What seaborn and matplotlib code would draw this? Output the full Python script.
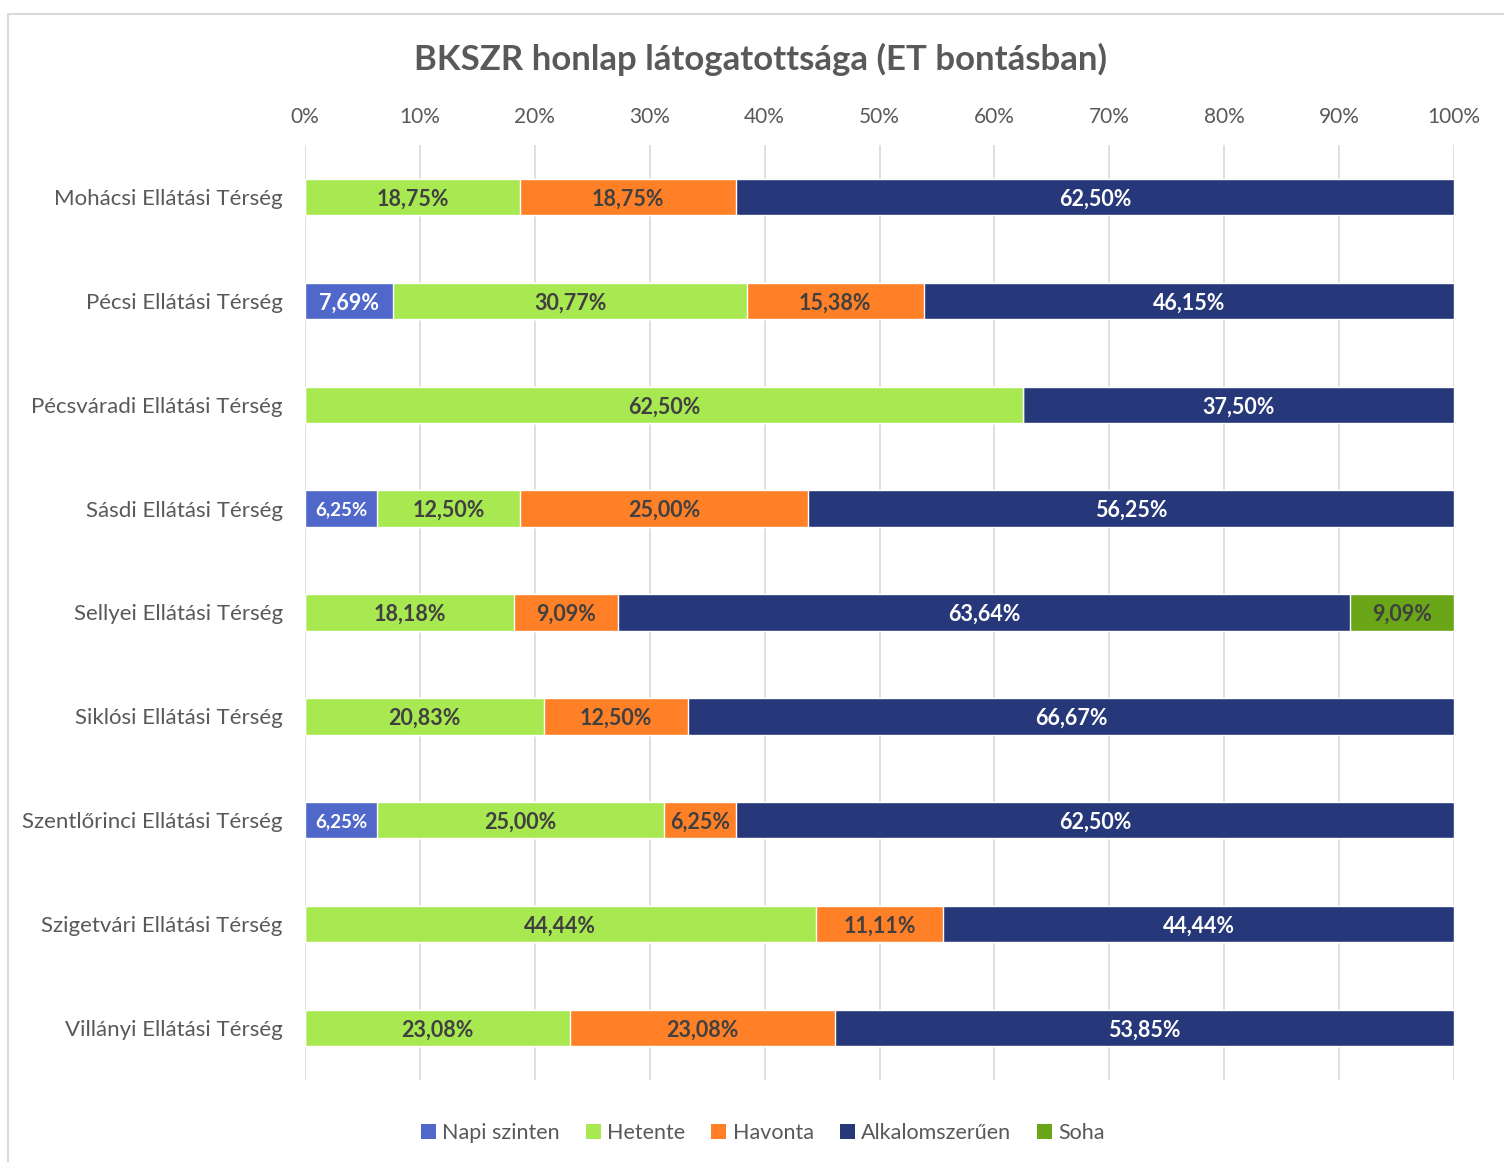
import numpy as np
import pandas as pd
import matplotlib.pyplot as plt
import seaborn as sns
from matplotlib.patches import Rectangle, Patch

regions = ["Mohácsi Ellátási Térség", "Pécsi Ellátási Térség", "Pécsváradi Ellátási Térség",
           "Sásdi Ellátási Térség", "Sellyei Ellátási Térség", "Siklósi Ellátási Térség",
           "Szentlőrinci Ellátási Térség", "Szigetvári Ellátási Térség", "Villányi Ellátási Térség"]
series = ["Napi szinten", "Hetente", "Havonta", "Alkalomszerűen", "Soha"]
napi = [0, 7.69, 0, 6.25, 0, 0, 6.25, 0, 0]
hetente = [18.75, 30.77, 62.50, 12.50, 18.18, 20.83, 25.00, 44.44, 23.08]
havonta = [18.75, 15.38, 0, 25.00, 9.09, 12.50, 6.25, 11.11, 23.08]
alkalom = [62.50, 46.15, 37.50, 56.25, 63.64, 66.67, 62.50, 44.44, 53.85]
soha = [0, 0, 0, 0, 9.09, 0, 0, 0, 0]
colors = ["#4F68C9", "#A8E851", "#FF8026", "#263879", "#6AA617"]
label_colors = ["white", "#404040", "#404040", "white", "#404040"]

sns.set_style("white")
plt.rcParams["font.family"] = ["Lato", "DejaVu Sans"]

df = pd.DataFrame({"region": regions, series[0]: napi, series[1]: hetente,
                   series[2]: havonta, series[3]: alkalom, series[4]: soha})
vals = df[series].to_numpy()
cum = vals.cumsum(axis=1)

fig = plt.figure(figsize=(15.04, 11.62), dpi=100)
fig.patches.append(Rectangle((8 / 1504, -0.01), 1.1, 1 - 14 / 1162 + 0.01, transform=fig.transFigure,
                             fill=False, edgecolor="#D9D9D9", linewidth=1.5))
ax = fig.add_axes([305 / 1504, 1 - 1080 / 1162, (1454 - 305) / 1504, (1080 - 145) / 1162])

# draw cumulative bars from last to first so they stack
for i in range(len(series) - 1, -1, -1):
    sns.barplot(x=cum[:, i], y=df["region"], orient="h", color=colors[i], width=0.35,
                saturation=1, ax=ax, zorder=3)

for r in range(len(regions)):
    for i in range(len(series)):
        v = vals[r, i]
        if v <= 0:
            continue
        txt = f"{v:.2f}".replace(".", ",") + "%"
        small = i == 0 and v < 7
        ax.text(cum[r, i] - v / 2, r, txt, ha="center", va="center_baseline", fontweight="bold",
                fontsize=13.5 if small else 15.5, color=label_colors[i], zorder=5)

ax.set_xlim(0, 100)
ax.set_ylim(8.5, -0.5)
ax.set_xticks(np.arange(0, 101, 10))
ax.set_xticklabels([f"{t}%" for t in range(0, 101, 10)])
ax.xaxis.tick_top()
ax.tick_params(axis="x", length=0, pad=13, labelsize=15, labelcolor="#595959")
ax.tick_params(axis="y", length=0, pad=16, labelsize=16, labelcolor="#595959")
ax.grid(axis="x", color="#D9D9D9", linewidth=1.2, zorder=0)
ax.set_axisbelow(True)
ax.set_xlabel("")
ax.set_ylabel("")
sns.despine(ax=ax, left=True, bottom=True, top=True, right=True)

fig.text(760 / 1504, 1 - 59 / 1162, "BKSZR honlap látogatottsága (ET bontásban)", ha="center",
         va="center", fontsize=25, fontweight="bold", color="#595959")

handles = [Patch(facecolor=c, edgecolor="none") for c in colors]
fig.legend(handles, series, loc="center", bbox_to_anchor=(763 / 1504, 1 - 1133 / 1162), ncol=5,
           frameon=False, fontsize=15.5, labelcolor="#595959", handlelength=0.7, handleheight=0.7,
           handletextpad=0.3, columnspacing=1.2)

fig.savefig("out.png", dpi=100)
